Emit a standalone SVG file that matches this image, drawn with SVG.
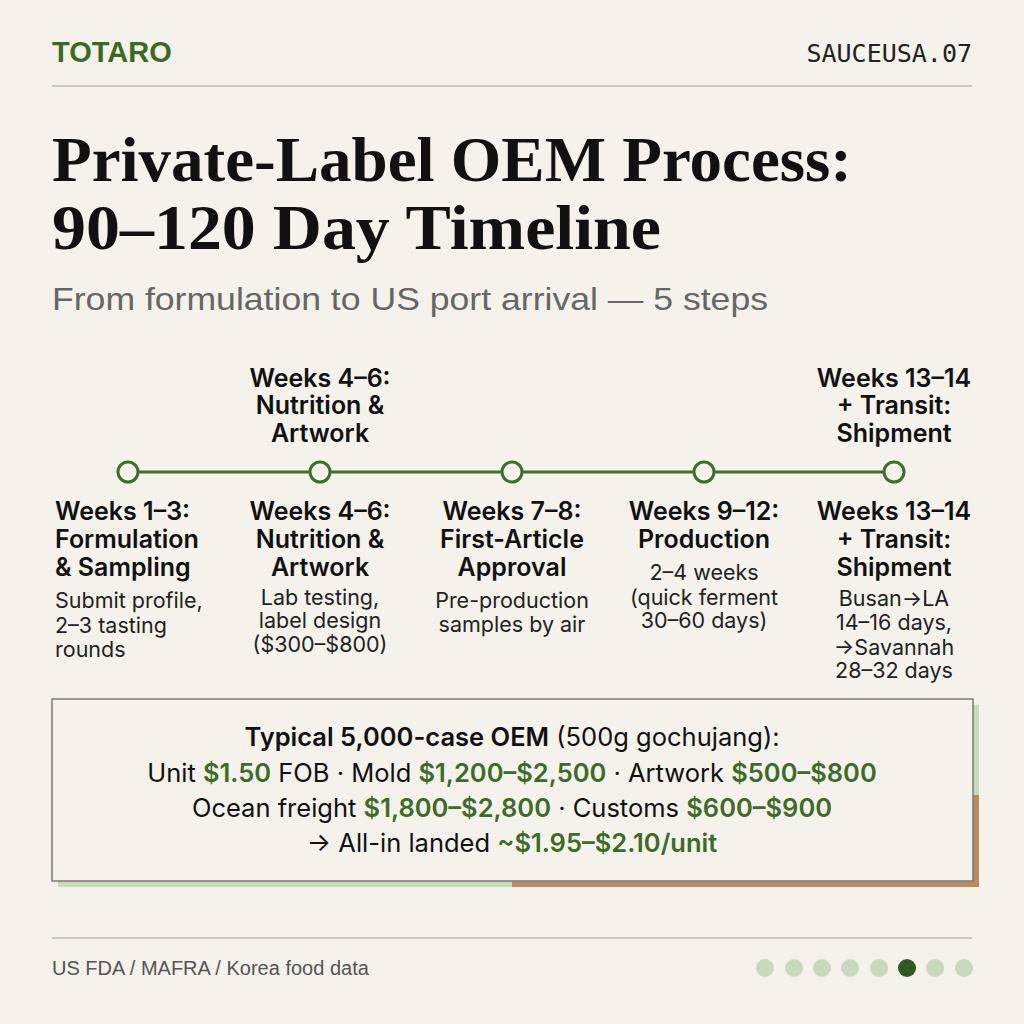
<svg xmlns="http://www.w3.org/2000/svg" width="1024" height="1024" viewBox="0 0 1024 1024">
<style>
.bg{fill:#f4f2ea}
.rule{stroke:#c9c8bb;stroke-width:2}
.brand{font-family:"Liberation Sans",Arial,sans-serif;font-weight:700;font-size:29px;fill:#3a6a26}
.code{font-family:"DejaVu Sans Mono","Liberation Mono",monospace;font-size:25px;fill:#222}
.title{font-family:"Liberation Serif","DejaVu Serif",serif;font-weight:700;font-size:64px;fill:#111}
.sub{font-family:"Liberation Sans",Arial,sans-serif;font-size:32px;fill:#666}
.h{font-family:Inter,"Liberation Sans",sans-serif;font-weight:600;font-size:25px;fill:#111}
.d{font-family:Inter,"Liberation Sans",sans-serif;font-size:21.5px;fill:#222}
.c{text-anchor:middle}
.node{fill:#f4f2ea;stroke:#3f6f2a;stroke-width:3}
.conn{stroke:#3f6f2a;stroke-width:3;fill:none}
.bx{font-family:Inter,"Liberation Sans",sans-serif;font-size:25.5px;fill:#111;text-anchor:middle}
.g{fill:#3d6b29;font-weight:600}
.b{font-weight:600}
.foot{font-family:"Liberation Sans",Arial,sans-serif;font-size:20px;fill:#555}
.dot{fill:#c8d9bd}
</style>
<rect class="bg" x="0" y="0" width="1024" height="1024"/>

<g id="header">
<text class="brand" x="52" y="62">TOTARO</text>
<text class="code" x="972" y="62" text-anchor="end">SAUCEUSA.07</text>
<line class="rule" x1="52" y1="86" x2="972" y2="86"/>
</g>

<g id="title">
<text class="title" x="52" y="181" textLength="800" lengthAdjust="spacingAndGlyphs">Private-Label OEM Process:</text>
<text class="title" x="52" y="249" textLength="609" lengthAdjust="spacingAndGlyphs">90–120 Day Timeline</text>
<text class="sub" x="52" y="310" textLength="716" lengthAdjust="spacingAndGlyphs">From formulation to US port arrival — 5 steps</text>
</g>

<g id="connectors">
<line class="conn" x1="138" y1="472" x2="310" y2="472"/>
<line class="conn" x1="330" y1="472" x2="502" y2="472"/>
<line class="conn" x1="522" y1="472" x2="694" y2="472"/>
<line class="conn" x1="714" y1="472" x2="884" y2="472"/>
</g>

<g id="step1">
<circle class="node" cx="128" cy="472" r="10"/>
<text class="h" x="55" y="520">Weeks 1–3:</text>
<text class="h" x="55" y="548">Formulation</text>
<text class="h" x="55" y="576">&amp; Sampling</text>
<text class="d" x="55" y="608">Submit profile,</text>
<text class="d" x="55" y="633">2–3 tasting</text>
<text class="d" x="55" y="657">rounds</text>
</g>

<g id="step2">
<circle class="node" cx="320" cy="472" r="10"/>
<text class="h c" x="320" y="387">Weeks 4–6:</text>
<text class="h c" x="320" y="414">Nutrition &amp;</text>
<text class="h c" x="320" y="442">Artwork</text>
<text class="h c" x="320" y="520">Weeks 4–6:</text>
<text class="h c" x="320" y="548">Nutrition &amp;</text>
<text class="h c" x="320" y="576">Artwork</text>
<text class="d c" x="320" y="605">Lab testing,</text>
<text class="d c" x="320" y="628">label design</text>
<text class="d c" x="320" y="652">($300–$800)</text>
</g>

<g id="step3">
<circle class="node" cx="512" cy="472" r="10"/>
<text class="h c" x="512" y="520">Weeks 7–8:</text>
<text class="h c" x="512" y="548">First-Article</text>
<text class="h c" x="512" y="576">Approval</text>
<text class="d c" x="512" y="608">Pre-production</text>
<text class="d c" x="512" y="632">samples by air</text>
</g>

<g id="step4">
<circle class="node" cx="704" cy="472" r="10"/>
<text class="h c" x="704" y="520">Weeks 9–12:</text>
<text class="h c" x="704" y="548">Production</text>
<text class="d c" x="704" y="580">2–4 weeks</text>
<text class="d c" x="704" y="605">(quick ferment</text>
<text class="d c" x="704" y="628">30–60 days)</text>
</g>

<g id="step5">
<circle class="node" cx="894" cy="472" r="10"/>
<text class="h c" x="894" y="387">Weeks 13–14</text>
<text class="h c" x="894" y="414">+ Transit:</text>
<text class="h c" x="894" y="442">Shipment</text>
<text class="h c" x="894" y="520">Weeks 13–14</text>
<text class="h c" x="894" y="548">+ Transit:</text>
<text class="h c" x="894" y="576">Shipment</text>
<text class="d c" x="894" y="606">Busan→LA</text>
<text class="d c" x="894" y="630">14–16 days,</text>
<text class="d c" x="894" y="655">→Savannah</text>
<text class="d c" x="894" y="678">28–32 days</text>
</g>

<g id="cost-box">
<rect x="58" y="705" width="921" height="182" fill="#c8dabd"/>
<rect x="512" y="795" width="467" height="92" fill="#b98b5e"/>
<rect x="52" y="699" width="921" height="182" fill="#f4f2ea" stroke="#7a7a74" stroke-width="1.5"/>
<text class="bx" x="512" y="746"><tspan class="b">Typical 5,000-case OEM</tspan> (500g gochujang):</text>
<text class="bx" x="512" y="782">Unit <tspan class="g">$1.50</tspan> FOB · Mold <tspan class="g">$1,200–$2,500</tspan> · Artwork <tspan class="g">$500–$800</tspan></text>
<text class="bx" x="512" y="817">Ocean freight <tspan class="g">$1,800–$2,800</tspan> · Customs <tspan class="g">$600–$900</tspan></text>
<text class="bx" x="512" y="852">→ All-in landed <tspan class="g">~$1.95–$2.10/unit</tspan></text>
</g>

<g id="footer">
<line class="rule" x1="52" y1="938" x2="972" y2="938"/>
<text class="foot" x="52" y="975">US FDA / MAFRA / Korea food data</text>
<circle class="dot" cx="765" cy="968" r="9"/>
<circle class="dot" cx="794" cy="968" r="9"/>
<circle class="dot" cx="822" cy="968" r="9"/>
<circle class="dot" cx="850" cy="968" r="9"/>
<circle class="dot" cx="879" cy="968" r="9"/>
<circle cx="907" cy="968" r="9" fill="#2d5a1e"/>
<circle class="dot" cx="935" cy="968" r="9"/>
<circle class="dot" cx="964" cy="968" r="9"/>
</g>
</svg>
